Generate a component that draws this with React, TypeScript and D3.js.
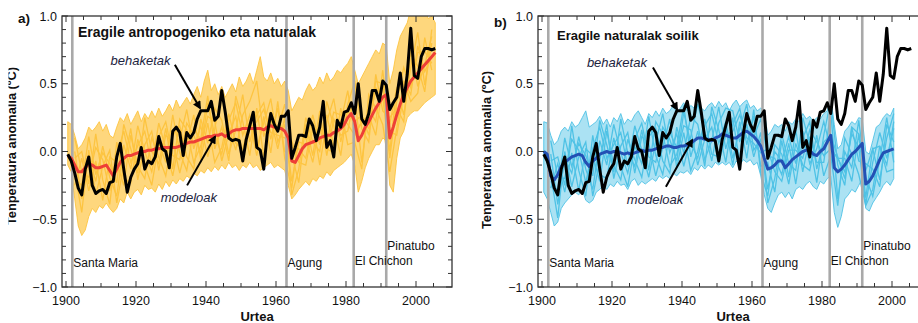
import { useEffect, useRef } from "react";
import * as d3 from "d3";

const W = 918;
const H = 323;
const FONT = '"Liberation Sans", Arial, Helvetica, sans-serif';

// observed global temperature anomaly, annual 1900-2005
const obsYears = d3.range(1900, 2006);
const obs = [
  -0.02, -0.07, -0.16, -0.27, -0.32, -0.13, -0.04, -0.25, -0.31, -0.29,
  -0.28, -0.31, -0.23, -0.22, -0.04, 0.06, -0.13, -0.3, -0.19, -0.13,
  -0.09, 0.03, -0.13, -0.07, -0.09, -0.04, 0.11, 0.02, 0.0, -0.12,
  0.15, 0.18, 0.14, -0.03, 0.14, 0.1, 0.14, 0.24, 0.3, 0.3,
  0.3, 0.37, 0.23, 0.26, 0.45, 0.29, 0.1, 0.08, 0.09, 0.08,
  -0.07, 0.09, 0.19, 0.29, 0.03, 0.01, -0.13, 0.13, 0.28, 0.2,
  0.15, 0.26, 0.26, 0.3, -0.05, 0.03, 0.12, 0.12, 0.11, 0.24,
  0.19, 0.08, 0.18, 0.37, 0.03, 0.08, -0.04, 0.23, 0.18, 0.29,
  0.3, 0.36, 0.28, 0.5, 0.24, 0.2, 0.28, 0.45, 0.45, 0.37,
  0.52, 0.49, 0.31, 0.36, 0.4, 0.58, 0.37, 0.57, 0.91, 0.56,
  0.54, 0.7, 0.76, 0.76, 0.75, 0.76,
];

// a) anthropogenic + natural forcings, 1900-2005
const yearsA = d3.range(1900, 2006);
const meanA = [
  -0.03, -0.05, -0.1, -0.15, -0.15, -0.12, -0.09, -0.1, -0.12, -0.12,
  -0.11, -0.1, -0.14, -0.18, -0.13, -0.08, -0.05, -0.03, -0.03, -0.02,
  -0.01, 0.0, 0.0, 0.01, 0.01, 0.02, 0.02, 0.03, 0.03, 0.03,
  0.03, 0.03, 0.04, 0.05, 0.06, 0.07, 0.07, 0.08, 0.09, 0.1,
  0.11, 0.11, 0.12, 0.12, 0.13, 0.11, 0.13, 0.15, 0.16, 0.16,
  0.17, 0.17, 0.17, 0.17, 0.17, 0.17, 0.16, 0.18, 0.19, 0.18,
  0.17, 0.17, 0.15, 0.1, -0.07, -0.08, -0.03, 0.02, 0.05, 0.06,
  0.07, 0.08, 0.1, 0.11, 0.12, 0.12, 0.14, 0.15, 0.17, 0.2,
  0.25, 0.28, 0.22, 0.08, 0.12, 0.18, 0.22, 0.27, 0.32, 0.36,
  0.4, 0.42, 0.1, 0.18, 0.27, 0.35, 0.42, 0.47, 0.52, 0.55,
  0.58, 0.61, 0.64, 0.67, 0.7, 0.73,
];
const upperA = [
  0.22, 0.2, 0.12, 0.02, 0.05, 0.1, 0.18, 0.15, 0.18, 0.22,
  0.15, 0.2, 0.12, 0.1, 0.18, 0.25, 0.22, 0.28, 0.2, 0.25,
  0.3, 0.22, 0.28, 0.24, 0.3, 0.25, 0.32, 0.26, 0.3, 0.35,
  0.3, 0.38, 0.32, 0.36, 0.4, 0.35, 0.42, 0.48, 0.4, 0.52,
  0.6, 0.45, 0.5, 0.42, 0.48, 0.4, 0.45, 0.5, 0.44, 0.55,
  0.48, 0.52, 0.58, 0.5, 0.6, 0.7, 0.55, 0.52, 0.58, 0.5,
  0.54, 0.48, 0.52, 0.45, 0.3, 0.35, 0.4, 0.38, 0.45, 0.5,
  0.45, 0.48, 0.55, 0.5, 0.58, 0.52, 0.55, 0.6, 0.58, 0.62,
  0.65, 0.7, 0.6, 0.5, 0.55, 0.6, 0.65, 0.7, 0.75, 0.72,
  0.8, 0.78, 0.5, 0.6, 0.75, 0.85, 0.9, 0.95, 1.05, 1.0,
  1.05, 1.0, 1.05, 0.98, 1.0, 0.95,
];
const lowerA = [
  -0.1, -0.15, -0.35, -0.55, -0.62, -0.58, -0.48, -0.42, -0.45, -0.4,
  -0.42, -0.38, -0.42, -0.45, -0.42, -0.35, -0.38, -0.3, -0.35, -0.3,
  -0.28, -0.32, -0.25, -0.28, -0.27, -0.3, -0.24, -0.28, -0.22, -0.26,
  -0.21, -0.24, -0.2, -0.22, -0.18, -0.2, -0.16, -0.18, -0.14, -0.16,
  -0.12, -0.15, -0.11, -0.14, -0.1, -0.13, -0.08, -0.12, -0.1, -0.14,
  -0.1, -0.12, -0.08, -0.12, -0.1, -0.14, -0.12, -0.1, -0.08, -0.12,
  -0.1, -0.12, -0.14, -0.25, -0.35, -0.32, -0.28, -0.25, -0.22, -0.25,
  -0.2, -0.22, -0.18, -0.2, -0.15, -0.18, -0.14, -0.12, -0.1, -0.08,
  -0.05, -0.02, -0.1, -0.3, -0.22, -0.12, -0.05, 0.0, 0.05, 0.05,
  0.1, 0.08, -0.25, -0.3, -0.05, 0.1, 0.15, 0.25, 0.28, 0.3,
  0.3, 0.33, 0.36, 0.38, 0.4, 0.42,
];
// a few individual model runs, every second year 1902-2004
const runYearsA = d3.range(1902, 2005, 2);
const runsA = [
  [0.0, -0.35, -0.04, -0.22, 0.04, -0.19, -0.33, 0.05, -0.13, 0.19,
   0.0, -0.15, 0.11, 0.22, -0.03, -0.06, 0.21, 0.12, -0.01, 0.36,
   0.12, -0.02, 0.23, 0.36, 0.12, 0.27, 0.02, 0.21, 0.39, 0.07,
   0.2, -0.22, 0.07, 0.05, 0.27, 0.05, 0.27, 0.04, 0.22, 0.45,
   0.12, 0.22, 0.17, 0.47, 0.4, -0.05, 0.37, 0.62, 0.47, 0.73,
   0.74, 0.65],
  [-0.25, -0.05, -0.29, -0.07, -0.36, -0.04, -0.08, -0.25, 0.12, -0.11,
   -0.2, 0.1, -0.04, -0.18, 0.12, 0.19, -0.04, -0.13, 0.24, 0.06,
   0.32, 0.23, -0.02, 0.16, 0.42, 0.07, 0.27, 0.36, 0.09, 0.32,
   0.0, -0.02, -0.23, 0.2, -0.03, 0.3, -0.03, 0.24, 0.12, 0.15,
   0.42, -0.08, 0.32, 0.22, 0.6, 0.15, 0.12, 0.42, 0.77, 0.48,
   0.64, 0.85],
  [0.1, -0.15, -0.19, 0.03, -0.06, -0.29, -0.03, 0.15, -0.08, 0.04,
   0.15, -0.1, 0.21, 0.02, -0.18, 0.09, 0.31, 0.02, 0.19, -0.04,
   0.17, 0.43, 0.18, 0.01, 0.27, 0.37, 0.52, 0.11, 0.29, 0.17,
   0.35, 0.03, 0.02, -0.05, 0.22, -0.1, 0.22, 0.39, 0.07, 0.3,
   0.22, 0.27, 0.12, 0.52, 0.5, 0.2, 0.47, 0.27, 0.62, 0.88,
   0.49, 0.8],
  [-0.15, -0.45, 0.01, -0.32, -0.11, 0.01, -0.38, -0.1, 0.17, -0.21,
   0.05, 0.15, -0.14, 0.12, 0.07, -0.16, 0.06, 0.27, -0.06, 0.21,
   -0.08, 0.03, 0.28, 0.06, 0.02, 0.22, -0.03, 0.26, -0.01, 0.37,
   -0.05, -0.27, 0.12, 0.1, -0.08, 0.2, 0.02, -0.01, 0.32, 0.05,
   0.07, -0.13, 0.42, 0.32, 0.2, -0.15, 0.17, 0.52, 0.37, 0.43,
   0.84, 0.6],
  [-0.05, 0.0, -0.24, 0.13, -0.21, -0.39, 0.07, -0.2, -0.23, 0.09,
   -0.1, -0.25, 0.06, -0.08, 0.27, -0.01, -0.14, 0.17, 0.09, 0.41,
   0.02, 0.18, -0.07, 0.41, 0.22, -0.03, 0.32, -0.04, 0.24, 0.02,
   0.25, -0.32, -0.13, 0.25, 0.07, 0.0, 0.37, 0.19, -0.03, 0.35,
   0.52, 0.17, 0.07, 0.57, 0.3, 0.25, 0.32, 0.22, 0.72, 0.63,
   0.44, 0.9],
  [-0.2, -0.25, 0.11, -0.17, -0.01, -0.09, -0.23, 0.2, 0.02, -0.16,
   0.25, 0.0, -0.09, 0.17, -0.13, 0.24, 0.16, -0.08, 0.04, 0.26,
   0.22, -0.07, 0.13, 0.26, -0.03, 0.17, 0.22, 0.31, 0.14, 0.12,
   0.1, 0.08, -0.08, -0.1, 0.17, 0.15, 0.07, 0.29, 0.27, 0.2,
   0.12, 0.22, 0.27, 0.12, 0.5, 0.0, 0.47, 0.52, 0.42, 0.78,
   0.59, 0.7],
];

// b) natural forcings only, 1900-2000
const yearsB = d3.range(1900, 2001);
const meanB = [
  0.0, -0.02, -0.18, -0.21, -0.17, -0.11, -0.08, -0.06, -0.04, -0.03,
  -0.02, -0.03, -0.08, -0.11, -0.07, -0.05, -0.02, -0.01, 0.0, -0.01,
  0.0, 0.0, -0.01, -0.02, -0.01, -0.02, -0.01, 0.0, 0.01, 0.0,
  0.01, 0.01, 0.02, 0.03, 0.03, 0.04, 0.04, 0.03, 0.03, 0.04,
  0.04, 0.05, 0.06, 0.08, 0.1, 0.1, 0.09, 0.09, 0.08, 0.1,
  0.11, 0.13, 0.12, 0.11, 0.1, 0.1, 0.12, 0.14, 0.15, 0.13,
  0.11, 0.08, 0.04, -0.05, -0.13, -0.12, -0.1, -0.07, -0.07, -0.12,
  -0.09, -0.06, -0.04, -0.02, 0.0, 0.01, 0.01, -0.02, -0.03, 0.0,
  0.02, 0.07, 0.12, -0.12, -0.15, -0.13, -0.1, -0.06, -0.02, 0.0,
  0.03, 0.06, -0.24, -0.22, -0.18, -0.12, -0.06, -0.01, 0.0, 0.01,
  0.02,
];
const upperB = [
  0.22, 0.21, 0.12, 0.05, 0.08, 0.15, 0.18, 0.15, 0.22, 0.18,
  0.2, 0.25, 0.3, 0.18, 0.2, 0.22, 0.26, 0.2, 0.24, 0.18,
  0.25, 0.22, 0.28, 0.2, 0.24, 0.22, 0.27, 0.3, 0.25, 0.2,
  0.28, 0.25, 0.3, 0.26, 0.32, 0.28, 0.3, 0.34, 0.28, 0.32,
  0.36, 0.3, 0.34, 0.32, 0.38, 0.32, 0.3, 0.34, 0.36, 0.32,
  0.37, 0.33, 0.36, 0.3, 0.35, 0.38, 0.33, 0.36, 0.38, 0.32,
  0.34, 0.3, 0.32, 0.3, 0.12, 0.15, 0.2, 0.18, 0.2, 0.15,
  0.22, 0.2, 0.24, 0.22, 0.28, 0.24, 0.26, 0.22, 0.25, 0.24,
  0.28, 0.3, 0.4, 0.2, 0.02, 0.05, 0.15, 0.18, 0.22, 0.2,
  0.25, 0.24, 0.0, -0.02, 0.08, 0.18, 0.2, 0.25, 0.28, 0.26,
  0.32,
];
const lowerB = [
  -0.3, -0.35, -0.45, -0.55, -0.52, -0.42, -0.38, -0.35, -0.32, -0.3,
  -0.32, -0.28, -0.36, -0.38, -0.36, -0.3, -0.28, -0.25, -0.28, -0.24,
  -0.26, -0.22, -0.25, -0.24, -0.28, -0.22, -0.2, -0.25, -0.22, -0.24,
  -0.22, -0.2, -0.22, -0.18, -0.2, -0.18, -0.2, -0.16, -0.18, -0.15,
  -0.16, -0.14, -0.17, -0.12, -0.14, -0.1, -0.13, -0.1, -0.12, -0.08,
  -0.1, -0.08, -0.1, -0.08, -0.12, -0.07, -0.1, -0.06, -0.08, -0.06,
  -0.1, -0.08, -0.18, -0.32, -0.42, -0.45, -0.38, -0.32, -0.3, -0.34,
  -0.3, -0.35, -0.28, -0.26, -0.28, -0.24, -0.22, -0.26, -0.28, -0.22,
  -0.24, -0.2, -0.18, -0.45, -0.56, -0.48, -0.35, -0.32, -0.28, -0.3,
  -0.25, -0.2, -0.42, -0.44, -0.38, -0.34, -0.3, -0.25, -0.22, -0.25,
  -0.2,
];
const runYearsB = d3.range(1902, 2001, 2);
const runsB = [
  [-0.02, -0.39, -0.05, -0.16, 0.11, -0.13, -0.28, 0.08, -0.1, 0.2,
   -0.01, -0.16, 0.09, 0.21, -0.04, -0.08, 0.18, 0.09, -0.07, 0.29,
   0.06, -0.05, 0.19, 0.28, 0.06, 0.22, -0.05, 0.17, 0.35, 0.01,
   0.09, -0.28, 0.0, -0.07, 0.11, -0.09, 0.15, -0.09, 0.02, 0.22,
   0.02, -0.05, -0.15, 0.13, 0.03, -0.39, -0.08, 0.14, -0.05, 0.17],
  [-0.27, -0.09, -0.3, -0.01, -0.29, 0.02, -0.03, -0.22, 0.15, -0.1,
   -0.21, 0.09, -0.06, -0.19, 0.11, 0.17, -0.07, -0.16, 0.18, -0.01,
   0.26, 0.2, -0.06, 0.08, 0.33, 0.02, 0.2, 0.32, 0.05, 0.26,
   -0.11, -0.08, -0.3, 0.08, -0.19, 0.16, -0.15, 0.11, -0.08, -0.08,
   0.3, -0.35, 0.0, -0.12, 0.23, -0.19, -0.33, -0.06, 0.25, -0.08],
  [0.08, -0.19, -0.2, 0.09, 0.01, -0.23, 0.02, 0.18, -0.05, 0.05,
   0.14, -0.11, 0.19, 0.01, -0.19, 0.07, 0.28, -0.01, 0.13, -0.11,
   0.11, 0.35, 0.14, -0.07, 0.21, 0.32, 0.3, 0.07, 0.25, 0.11,
   0.24, -0.03, -0.05, -0.17, 0.06, -0.24, 0.1, 0.22, -0.13, 0.07,
   0.12, -0.04, -0.2, 0.18, 0.13, -0.14, 0.02, -0.21, 0.1, 0.28],
  [-0.17, -0.49, 0.0, -0.26, -0.04, 0.07, -0.33, -0.07, 0.2, -0.2,
   0.04, 0.14, -0.16, 0.11, 0.06, -0.18, 0.03, 0.24, -0.12, 0.14,
   -0.14, 0.0, 0.24, -0.02, -0.04, 0.17, -0.1, 0.22, -0.05, 0.31,
   -0.16, -0.33, 0.05, -0.02, -0.24, 0.06, -0.1, -0.14, 0.12, -0.18,
   -0.03, -0.4, 0.1, -0.02, -0.17, -0.4, -0.28, 0.04, -0.15, -0.13],
  [-0.07, -0.04, -0.25, 0.19, -0.14, -0.33, 0.12, -0.17, -0.2, 0.1,
   -0.11, -0.26, 0.04, -0.09, 0.26, -0.03, -0.17, 0.14, 0.03, 0.34,
   -0.04, 0.15, -0.11, 0.33, 0.16, -0.08, 0.25, -0.08, 0.2, -0.04,
   0.14, -0.38, -0.2, 0.13, -0.09, -0.14, 0.25, 0.06, -0.23, 0.12,
   0.38, -0.1, -0.25, 0.18, -0.07, -0.09, -0.13, -0.26, 0.2, 0.07],
  [-0.22, -0.29, 0.1, -0.11, 0.06, -0.03, -0.18, 0.23, 0.05, -0.15,
   0.24, -0.01, -0.11, 0.16, -0.14, 0.22, 0.13, -0.11, -0.02, 0.19,
   0.16, -0.1, 0.09, 0.18, -0.09, 0.12, 0.15, 0.27, 0.1, 0.06,
   -0.01, 0.02, -0.15, -0.22, 0.01, 0.01, -0.05, 0.16, 0.07, -0.03,
   0.02, -0.05, -0.05, -0.22, 0.13, -0.34, 0.02, 0.04, -0.1, 0.22],
];

const volcanoNames = ["Santa Maria", "Agung", "El Chichon", "Pinatubo"];
const volcanoYears = [1901.8, 1963, 1982.2, 1991.5];
const xTickYears = d3.range(1900, 2010, 5);
const yTickValues = d3.range(-10, 11).map(d => d / 10);

function drawPanel(svg, p) {
  const top = 16;
  const bottom = 287;
  const left = p.left;
  const right = p.left + 390;
  const x = d3.scaleLinear().domain([1900, 2000]).range([left + 4, left + 354]);
  const y = d3.scaleLinear().domain([-1, 1]).range([bottom, top]);
  const mid = yr => x(yr + 0.5);

  const clipId = "plot-clip-" + p.key;
  svg.select("defs").append("clipPath").attr("id", clipId)
    .append("rect")
    .attr("x", left).attr("y", top)
    .attr("width", right - left).attr("height", bottom - top);

  const plot = svg.append("g").attr("clip-path", `url(#${clipId})`);

  // model spread
  plot.append("path")
    .datum(p.years)
    .attr("d", d3.area().x(d => mid(d)).y0((d, i) => y(p.lower[i])).y1((d, i) => y(p.upper[i])))
    .attr("fill", p.runColor)
    .attr("fill-opacity", p.fillOpacity)
    .attr("stroke", p.runColor)
    .attr("stroke-width", 0.9);

  const runLine = d3.line().x((d, i) => mid(p.runYears[i])).y(d => y(d));
  p.runs.forEach(run => {
    plot.append("path")
      .datum(run)
      .attr("d", runLine)
      .attr("fill", "none")
      .attr("stroke", p.runColor)
      .attr("stroke-width", 1.3);
  });

  // volcanic eruptions
  plot.selectAll(".volcano")
    .data(volcanoYears)
    .enter()
    .append("line")
    .attr("x1", d => x(d)).attr("x2", d => x(d))
    .attr("y1", top).attr("y2", bottom)
    .attr("stroke", "#a9a9a9")
    .attr("stroke-width", 2.6);

  // model mean
  plot.append("path")
    .datum(p.mean)
    .attr("d", d3.line().x((d, i) => mid(p.years[i])).y(d => y(d)))
    .attr("fill", "none")
    .attr("stroke", p.meanColor)
    .attr("stroke-width", 3)
    .attr("stroke-linejoin", "round");

  // observations
  plot.append("path")
    .datum(obs)
    .attr("d", d3.line().x((d, i) => mid(obsYears[i])).y(d => y(d)))
    .attr("fill", "none")
    .attr("stroke", "#000")
    .attr("stroke-width", 3)
    .attr("stroke-linejoin", "round");

  // frame and inward ticks
  const axes = svg.append("g").attr("stroke", "#333").attr("stroke-width", 1);
  axes.append("rect")
    .attr("x", left).attr("y", top)
    .attr("width", right - left).attr("height", bottom - top)
    .attr("fill", "none").attr("stroke-width", 1.3);

  yTickValues.forEach(v => {
    const major = Math.abs(v * 2 - Math.round(v * 2)) < 1e-6;
    const len = major ? 6 : 4;
    axes.append("line").attr("x1", left).attr("x2", left + len).attr("y1", y(v)).attr("y2", y(v));
    axes.append("line").attr("x1", right - len).attr("x2", right).attr("y1", y(v)).attr("y2", y(v));
  });
  xTickYears.forEach(t => {
    const major = t % 20 === 0;
    const len = major ? 6 : 4;
    axes.append("line").attr("x1", x(t)).attr("x2", x(t)).attr("y1", top).attr("y2", top + len);
    axes.append("line").attr("x1", x(t)).attr("x2", x(t)).attr("y1", bottom - len).attr("y2", bottom);
  });

  const txt = svg.append("g").attr("font-family", FONT).attr("fill", "#111");

  txt.selectAll(".ylab")
    .data(yTickValues.filter(v => Math.abs(v * 2 - Math.round(v * 2)) < 1e-6))
    .enter()
    .append("text")
    .attr("x", left - 5)
    .attr("y", d => y(d))
    .attr("dy", "0.36em")
    .attr("text-anchor", "end")
    .attr("font-size", 12.5)
    .text(d => d3.format(".1f")(d));

  txt.selectAll(".xlab")
    .data(xTickYears.filter(t => t % 20 === 0))
    .enter()
    .append("text")
    .attr("x", d => x(d))
    .attr("y", 305)
    .attr("text-anchor", "middle")
    .attr("font-size", 12.5)
    .text(d => d);

  txt.append("text")
    .attr("x", (left + right) / 2)
    .attr("y", 321)
    .attr("text-anchor", "middle")
    .attr("font-size", 13)
    .attr("font-weight", "bold")
    .text("Urtea");

  txt.append("text")
    .attr("x", left - 44)
    .attr("y", p.letterY)
    .attr("font-size", 13.5)
    .attr("font-weight", "bold")
    .text(p.letter);

  txt.append("text")
    .attr("x", left + p.titleDx)
    .attr("y", p.titleY)
    .attr("font-size", p.titleSize)
    .attr("font-weight", "bold")
    .text(p.title);

  // y title; in panel a the left edge of the lettering is cut off
  const yTitleG = txt.append("g");
  if (p.yTitleClip) {
    svg.select("defs").append("clipPath").attr("id", "ytitle-clip")
      .append("rect").attr("x", 8.5).attr("y", 0).attr("width", 30).attr("height", H);
    yTitleG.attr("clip-path", "url(#ytitle-clip)");
  }
  yTitleG.append("text")
    .attr("transform", `translate(${p.yTitleX},${p.yTitleY}) rotate(-90)`)
    .attr("text-anchor", "middle")
    .attr("font-size", 12.8)
    .attr("font-weight", "bold")
    .text("Tenperatura anomalia (ºC)");

  const labelLevels = [-0.855, -0.855, -0.835, -0.73];
  volcanoNames.forEach((name, i) => {
    txt.append("text")
      .attr("x", x(volcanoYears[i]) + 1)
      .attr("y", y(labelLevels[i]))
      .attr("font-size", 12)
      .text(name);
  });

  // annotations
  const ann = svg.append("g").attr("font-family", FONT);
  p.notes.forEach(n => {
    ann.append("text")
      .attr("x", x(n.tx)).attr("y", y(n.ty))
      .attr("text-anchor", "middle")
      .attr("font-size", 13)
      .attr("font-style", "italic")
      .attr("fill", "#1c2340")
      .text(n.text);
    ann.append("line")
      .attr("x1", x(n.from[0])).attr("y1", y(n.from[1]))
      .attr("x2", x(n.to[0])).attr("y2", y(n.to[1]))
      .attr("stroke", "#000")
      .attr("stroke-width", 2)
      .attr("marker-end", "url(#arrow-head)");
  });
}

function App() {
  const svgRef = useRef(null);

  useEffect(() => {
    const svg = d3.select(svgRef.current);
    svg.selectAll("*").remove();

    const defs = svg.append("defs");
    defs.append("marker")
      .attr("id", "arrow-head")
      .attr("viewBox", "0 0 10 10")
      .attr("refX", 8)
      .attr("refY", 5)
      .attr("markerWidth", 5.5)
      .attr("markerHeight", 4.2)
      .attr("orient", "auto")
      .append("path")
      .attr("d", "M0,0 L10,5 L0,10 Z")
      .attr("fill", "#000");

    drawPanel(svg, {
      key: "a",
      left: 62,
      letter: "a)",
      letterY: 23,
      title: "Eragile antropogeniko eta naturalak",
      titleDx: 16,
      titleY: 37,
      titleSize: 14,
      years: yearsA,
      mean: meanA,
      upper: upperA,
      lower: lowerA,
      runYears: runYearsA,
      runs: runsA,
      runColor: "#fdc440",
      fillOpacity: 0.68,
      meanColor: "#ee3f36",
      yTitleX: 15.5,
      yTitleY: 146,
      yTitleClip: true,
      notes: [
        { text: "behaketak", tx: 1921.3, ty: 0.64, from: [1931.1, 0.64], to: [1938.3, 0.32] },
        { text: "modeloak", tx: 1935.1, ty: -0.376, from: [1934.6, -0.25], to: [1942.6, 0.11] },
      ],
    });

    drawPanel(svg, {
      key: "b",
      left: 538,
      letter: "b)",
      letterY: 27,
      title: "Eragile naturalak soilik",
      titleDx: 19,
      titleY: 40,
      titleSize: 13,
      years: yearsB,
      mean: meanB,
      upper: upperB,
      lower: lowerB,
      runYears: runYearsB,
      runs: runsB,
      runColor: "#4fc2e5",
      fillOpacity: 0.48,
      meanColor: "#2350b4",
      yTitleX: 491,
      yTitleY: 150,
      yTitleClip: false,
      notes: [
        { text: "behaketak", tx: 1921.4, ty: 0.62, from: [1931.7, 0.62], to: [1938.6, 0.31] },
        { text: "modeloak", tx: 1932.3, ty: -0.39, from: [1935.4, -0.26], to: [1942.9, 0.085] },
      ],
    });
  }, []);

  return (
    <svg
      ref={svgRef}
      width={W}
      height={H}
      style={{ position: "absolute", left: 0, top: 0, background: "#fff" }}
    />
  );
}

export default App;
